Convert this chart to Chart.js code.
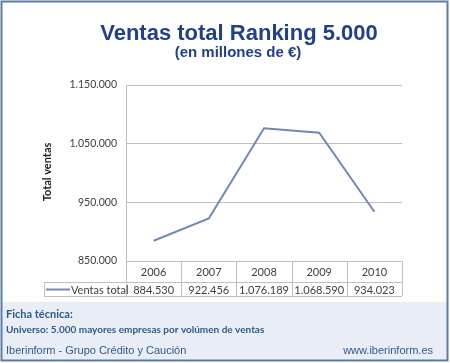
<!DOCTYPE html>
<html>
<head>
<meta charset="utf-8">
<script src="https://cdn.jsdelivr.net/npm/chart.js@4.4.1/dist/chart.umd.min.js"></script>
<style>
  html, body { margin: 0; padding: 0; background: #fff; }
  #wrap { position: relative; width: 450px; height: 363px; }
</style>
</head>
<body>
<div id="wrap"><canvas id="chart" width="450" height="363"></canvas></div>
<script>
// Data
const years = ['2006', '2007', '2008', '2009', '2010'];
const ventasTotal = [884530, 922456, 1076189, 1068590, 934023];
const ventasLabels = ['884.530', '922.456', '1.076.189', '1.068.590', '934.023'];
const yTicks = [850000, 950000, 1050000, 1150000];

const BLUE = '#1f3f8f';
const LINE = '#6f89bb';
const GRID = '#bfbfbf';
const TXT = '#404040';
const BODY_FONT = 'Lato, "Open Sans", sans-serif';

function fmt(v) {
  return String(v).replace(/\B(?=(\d{3})+(?!\d))/g, '.');
}

// Frame, titles, data table and footer around the plot
const decor = {
  id: 'decor',
  beforeDraw(chart) {
    const ctx = chart.ctx;
    ctx.save();
    ctx.fillStyle = '#fff';
    ctx.fillRect(0, 0, 450, 363);
    // footer band
    ctx.fillStyle = '#e9edf6';
    ctx.fillRect(2, 302, 446, 58);
    ctx.restore();
  },
  afterDraw(chart) {
    const ctx = chart.ctx;
    const area = chart.chartArea;
    const x = chart.scales.x;
    ctx.save();

    // titles
    ctx.fillStyle = BLUE;
    ctx.textAlign = 'center';
    ctx.textBaseline = 'alphabetic';
    ctx.font = 'bold 22px "Liberation Sans", Arial, sans-serif';
    ctx.fillText('Ventas total Ranking 5.000', 239, 40);
    ctx.font = 'bold 15px "Liberation Sans", Arial, sans-serif';
    ctx.fillText('(en millones de \u20ac)', 238, 57);

    // y axis title
    ctx.save();
    ctx.translate(47, 172);
    ctx.rotate(-Math.PI / 2);
    ctx.fillStyle = '#222';
    ctx.font = 'bold 11px ' + BODY_FONT;
    ctx.textBaseline = 'middle';
    ctx.fillText('Total ventas', 0, 0);
    ctx.restore();

    // data table
    const top = area.bottom, mid = area.bottom + 21, bot = area.bottom + 35;
    const step = (area.right - area.left) / years.length;
    ctx.strokeStyle = GRID;
    ctx.lineWidth = 1;
    ctx.beginPath();
    ctx.moveTo(area.left, top + 0.5); ctx.lineTo(area.right, top + 0.5);
    ctx.moveTo(44, mid + 0.5); ctx.lineTo(area.right, mid + 0.5);
    ctx.moveTo(44, bot + 0.5); ctx.lineTo(area.right, bot + 0.5);
    ctx.moveTo(44.5, mid); ctx.lineTo(44.5, bot);
    for (let i = 0; i <= years.length; i++) {
      const cx = Math.round(area.left + i * step) + 0.5;
      ctx.moveTo(cx, top); ctx.lineTo(cx, bot);
    }
    ctx.stroke();

    ctx.fillStyle = TXT;
    ctx.font = '11px ' + BODY_FONT;
    ctx.textAlign = 'center';
    ctx.textBaseline = 'middle';
    years.forEach((y, i) => {
      const cx = x.getPixelForValue(i);
      ctx.fillText(y, cx, (top + mid) / 2 + 1);
      ctx.fillText(ventasLabels[i], cx, (mid + bot) / 2 + 1);
    });
    // legend key
    ctx.strokeStyle = LINE;
    ctx.lineWidth = 2;
    ctx.beginPath();
    ctx.moveTo(46, (mid + bot) / 2 + 0.5); ctx.lineTo(70, (mid + bot) / 2 + 0.5);
    ctx.stroke();
    ctx.textAlign = 'left';
    ctx.fillText('Ventas total', 71, (mid + bot) / 2 + 1);

    // footer text
    ctx.fillStyle = '#2d5b8c';
    ctx.textBaseline = 'alphabetic';
    ctx.font = 'bold 11px ' + BODY_FONT;
    ctx.fillText('Ficha t\u00e9cnica:', 6, 318);
    ctx.font = 'bold 10px ' + BODY_FONT;
    ctx.fillText('Universo: 5.000 mayores empresas por vol\u00famen de ventas', 6, 333);
    ctx.font = '11px "Liberation Sans", Arial, sans-serif';
    ctx.fillText('Iberinform - Grupo Cr\u00e9dito y Cauci\u00f3n', 6, 354);
    ctx.textAlign = 'right';
    ctx.fillText('www.iberinform.es', 433, 354);

    // outer frame
    ctx.strokeStyle = '#5b7da3';
    ctx.lineWidth = 2;
    ctx.strokeRect(1.5, 1.5, 446, 359);
    ctx.restore();
  }
};

new Chart(document.getElementById('chart'), {
  type: 'line',
  data: {
    labels: years,
    datasets: [{
      label: 'Ventas total',
      data: ventasTotal,
      borderColor: LINE,
      borderWidth: 2,
      pointRadius: 0,
      tension: 0,
      fill: false
    }]
  },
  options: {
    responsive: false,
    animation: false,
    layout: { padding: { left: 0, top: 85, right: 48, bottom: 102 } },
    plugins: { legend: { display: false }, tooltip: { enabled: false } },
    scales: {
      x: {
        offset: true,
        grid: { display: false, drawTicks: false },
        border: { display: false },
        ticks: { display: false }
      },
      y: {
        min: 850000,
        max: 1150000,
        afterFit(scale) { scale.width = 126; },
        afterBuildTicks(scale) { scale.ticks = yTicks.map(v => ({ value: v })); },
        grid: { color: GRID, lineWidth: 1, drawTicks: false },
        border: { display: true, color: GRID, width: 1 },
        ticks: {
          padding: 9,
          color: TXT,
          font: { family: BODY_FONT, size: 10.5 },
          callback: v => fmt(v)
        }
      }
    }
  },
  plugins: [decor]
});
</script>
</body>
</html>
